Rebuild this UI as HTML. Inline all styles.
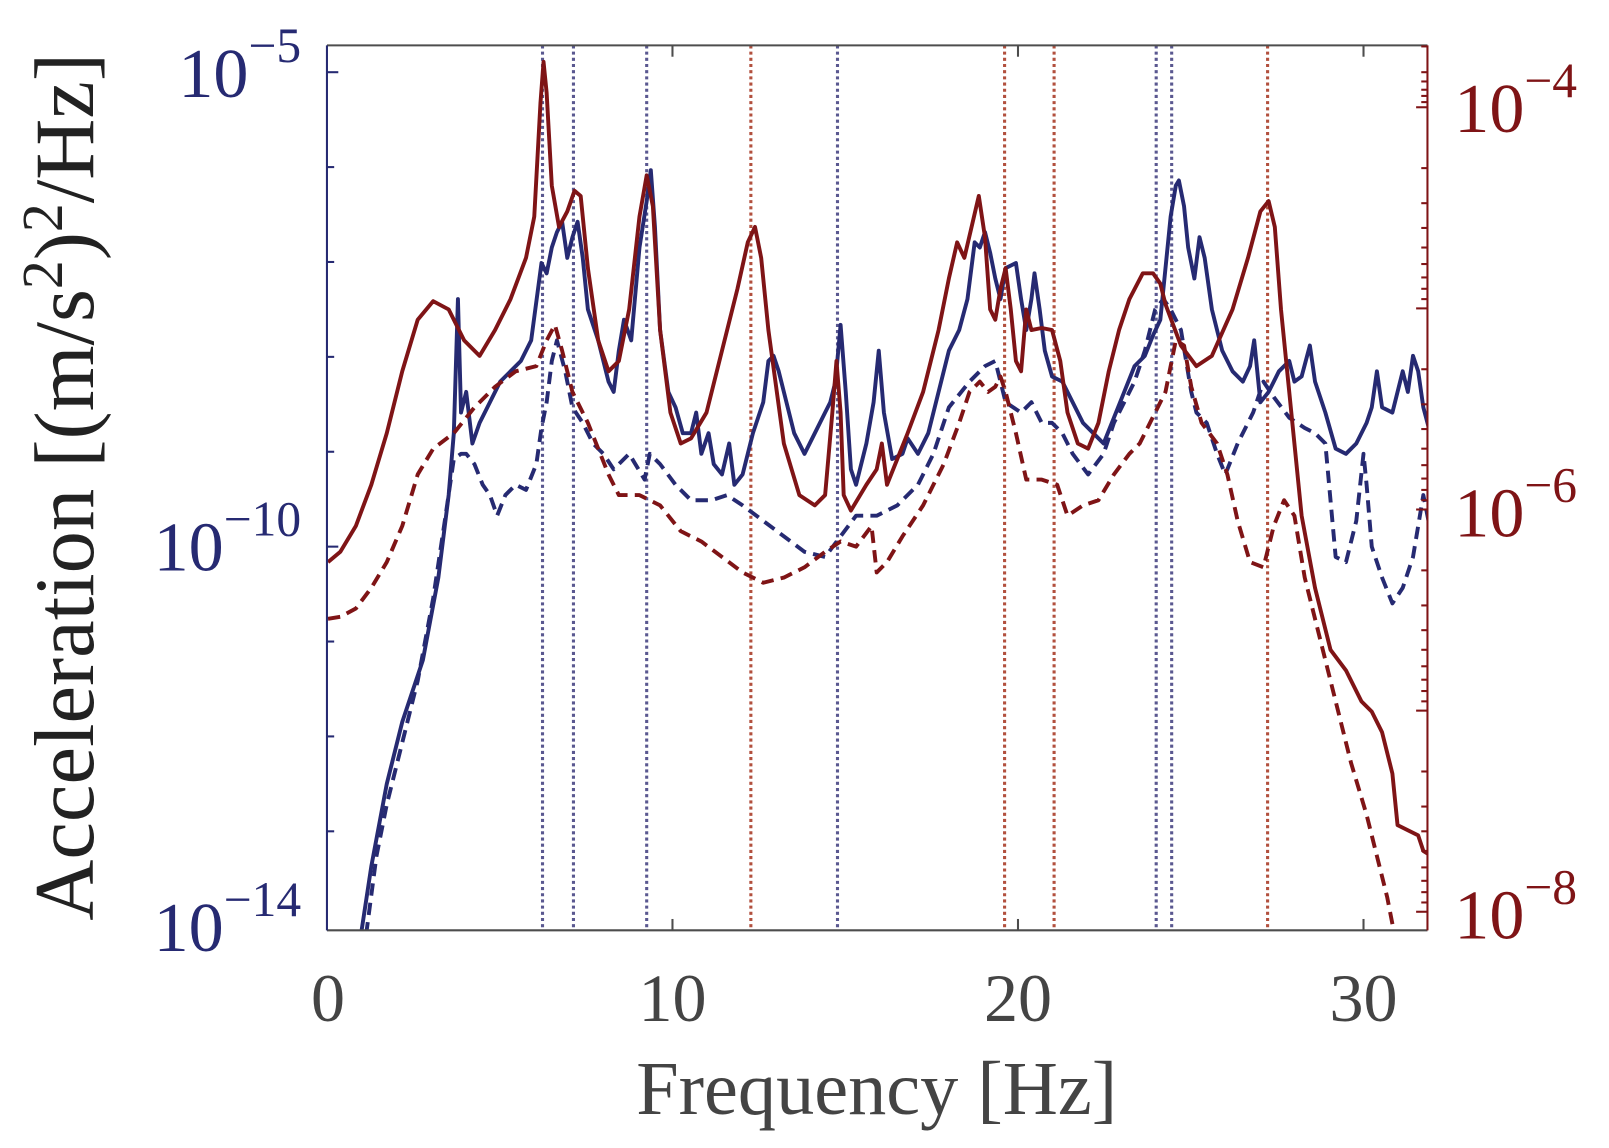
<!DOCTYPE html>
<html><head><meta charset="utf-8"><style>
html,body{margin:0;padding:0;background:#fff;}
svg{display:block;}
text{font-family:"Liberation Serif",serif;}
</style></head><body>
<svg width="1609" height="1148" viewBox="0 0 1609 1148" xmlns="http://www.w3.org/2000/svg">
<g transform="scale(1.0314)">
<defs><clipPath id="c"><rect x="317" y="44" width="1067" height="858"/></clipPath></defs>
<g stroke-width="3" stroke-dasharray="3,3" fill="none">
<g stroke="#5a5890">
<line x1="526" y1="44" x2="526" y2="902"/><line x1="556" y1="44" x2="556" y2="902"/>
<line x1="627" y1="44" x2="627" y2="902"/><line x1="812" y1="44" x2="812" y2="902"/>
<line x1="1121" y1="44" x2="1121" y2="902"/><line x1="1136" y1="44" x2="1136" y2="902"/>
</g>
<g stroke="#b2503e">
<line x1="728" y1="44" x2="728" y2="902"/><line x1="974" y1="44" x2="974" y2="902"/>
<line x1="1022" y1="44" x2="1022" y2="902"/><line x1="1229" y1="44" x2="1229" y2="902"/>
</g>
</g>
<g clip-path="url(#c)" fill="none" stroke-width="3.8" stroke-linejoin="round">
<polyline stroke="#262a72" points="350,906 360,840 375,760 390,700 410,640 425,560 435,480 440,420 444,290 447,400 452,380 458,430 465,410 475,390 485,370 495,360 505,350 515,330 525,255 530,265 535,240 540,225 545,215 550,250 555,230 560,215 565,250 570,300 580,330 590,370 595,380 600,340 605,310 612,330 620,240 627,195 631,165 635,220 640,320 648,380 655,395 662,420 670,420 675,400 680,440 687,420 692,450 700,460 707,430 712,470 720,460 730,420 740,390 745,350 750,345 755,360 760,380 770,420 780,440 790,420 800,400 805,390 810,370 815,315 820,380 825,455 830,470 840,430 847,390 852,340 857,400 865,445 875,440 880,425 890,440 900,420 910,380 920,340 930,320 938,290 945,235 950,240 955,225 960,245 965,270 970,290 975,260 985,255 990,290 995,320 1000,290 1003,265 1008,300 1013,340 1020,365 1030,370 1040,390 1050,410 1060,420 1070,430 1080,405 1090,380 1100,355 1110,345 1118,325 1125,310 1130,260 1135,210 1140,180 1143,175 1148,200 1152,240 1158,270 1163,230 1168,250 1175,300 1185,340 1195,360 1205,370 1212,355 1216,330 1222,390 1230,380 1240,360 1250,350 1255,370 1262,365 1270,335 1275,370 1285,400 1295,435 1305,440 1315,430 1325,410 1330,395 1335,360 1340,395 1350,400 1360,360 1365,380 1370,345 1375,360 1380,395 1388,425"/>
<polyline stroke="#262a72" stroke-dasharray="12,7" points="355,906 365,830 375,780 390,720 405,660 420,580 432,500 440,445 447,440 452,440 460,450 468,470 475,480 482,500 490,480 500,470 510,475 520,450 525,415 530,390 535,350 540,330 548,360 555,395 565,410 575,430 585,440 595,455 610,440 625,465 630,440 640,450 655,470 670,485 690,485 705,480 720,490 740,505 760,520 780,535 800,540 815,520 830,500 850,500 870,490 890,470 905,440 920,395 940,370 955,355 965,350 975,390 990,400 1000,390 1010,410 1020,410 1030,420 1040,440 1055,460 1070,440 1080,410 1090,390 1100,370 1110,340 1120,300 1128,290 1135,300 1145,320 1155,380 1160,400 1170,410 1180,440 1188,460 1200,430 1215,400 1225,370 1235,385 1250,405 1265,415 1275,420 1285,430 1295,540 1305,545 1315,505 1322,440 1325,470 1330,530 1340,560 1350,585 1360,570 1370,540 1380,480 1388,520"/>
<polyline stroke="#7f1416" points="318,545 330,535 345,510 360,470 375,420 390,360 405,310 420,292 435,300 450,330 465,345 480,320 495,290 510,250 518,210 524,100 527,60 530,90 535,180 542,220 550,205 557,185 563,190 570,260 580,330 590,360 600,350 610,300 620,210 627,170 633,200 640,320 650,400 660,430 670,425 685,400 700,340 715,280 725,235 732,220 738,250 745,320 760,430 775,480 790,490 800,480 807,400 811,350 815,400 818,480 825,495 840,470 850,455 855,430 860,470 870,445 880,420 895,380 910,320 920,270 928,235 935,250 942,220 949,190 955,230 960,300 965,310 970,280 975,260 980,300 985,350 990,360 995,300 1000,320 1010,318 1020,320 1028,350 1035,400 1045,430 1055,435 1065,410 1075,360 1085,320 1095,290 1108,265 1118,265 1125,275 1130,295 1145,335 1160,355 1175,345 1195,300 1210,250 1222,205 1230,195 1236,220 1242,300 1250,380 1262,500 1275,570 1290,630 1305,650 1320,680 1330,690 1340,710 1350,750 1355,800 1365,805 1375,810 1380,825 1388,830"/>
<polyline stroke="#7f1416" stroke-dasharray="12,7" points="318,600 330,598 345,590 360,570 375,545 390,510 405,460 420,435 440,420 460,395 480,375 500,360 520,355 530,330 538,315 545,340 555,380 570,410 590,460 600,480 620,480 640,490 660,515 680,525 700,540 720,555 740,565 760,560 780,550 800,535 815,525 830,530 845,510 850,555 860,545 875,520 895,490 915,450 930,410 940,380 950,370 958,380 965,375 970,365 975,380 985,420 995,465 1010,465 1025,470 1035,500 1050,490 1065,485 1080,460 1095,440 1105,430 1120,400 1130,380 1140,330 1148,335 1155,375 1165,410 1180,430 1190,460 1200,505 1212,545 1225,550 1235,510 1245,485 1255,500 1265,560 1280,620 1295,680 1310,740 1325,790 1335,830 1345,870 1352,906"/>
</g>
<line x1="317" y1="44" x2="1384" y2="44" stroke="#4d4d4d" stroke-width="2"/>
<line x1="317" y1="902" x2="1384" y2="902" stroke="#4d4d4d" stroke-width="2"/>
<line x1="317" y1="44" x2="317" y2="902" stroke="#262a72" stroke-width="2"/>
<line x1="1384" y1="44" x2="1384" y2="902" stroke="#7f1416" stroke-width="2"/>
<g stroke="#4d4d4d" stroke-width="2">
<line x1="652" y1="902" x2="652" y2="891"/><line x1="987" y1="902" x2="987" y2="891"/><line x1="1322" y1="902" x2="1322" y2="891"/>
<line x1="652" y1="44" x2="652" y2="55"/><line x1="987" y1="44" x2="987" y2="55"/><line x1="1322" y1="44" x2="1322" y2="55"/>
</g>
<g stroke="#262a72" stroke-width="2">
<line x1="317" y1="70" x2="328" y2="70"/><line x1="317" y1="162" x2="324" y2="162"/><line x1="317" y1="254" x2="324" y2="254"/><line x1="317" y1="346" x2="324" y2="346"/><line x1="317" y1="438" x2="324" y2="438"/><line x1="317" y1="530" x2="328" y2="530"/><line x1="317" y1="622" x2="324" y2="622"/><line x1="317" y1="714" x2="324" y2="714"/><line x1="317" y1="806" x2="324" y2="806"/>
</g>
<g stroke="#7f1416" stroke-width="2">
<line x1="1373" y1="104" x2="1384" y2="104"/><line x1="1373" y1="299" x2="1384" y2="299"/><line x1="1373" y1="494" x2="1384" y2="494"/><line x1="1373" y1="689" x2="1384" y2="689"/><line x1="1373" y1="884" x2="1384" y2="884"/>
<line x1="1378" y1="45" x2="1384" y2="45"/><line x1="1378" y1="70" x2="1384" y2="70"/><line x1="1378" y1="79" x2="1384" y2="79"/><line x1="1378" y1="87" x2="1384" y2="87"/><line x1="1378" y1="93" x2="1384" y2="93"/><line x1="1378" y1="99" x2="1384" y2="99"/>
<line x1="1378" y1="163" x2="1384" y2="163"/><line x1="1378" y1="197" x2="1384" y2="197"/><line x1="1378" y1="221" x2="1384" y2="221"/><line x1="1378" y1="240" x2="1384" y2="240"/><line x1="1378" y1="256" x2="1384" y2="256"/><line x1="1378" y1="269" x2="1384" y2="269"/><line x1="1378" y1="280" x2="1384" y2="280"/><line x1="1378" y1="290" x2="1384" y2="290"/>
<line x1="1378" y1="358" x2="1384" y2="358"/><line x1="1378" y1="392" x2="1384" y2="392"/><line x1="1378" y1="416" x2="1384" y2="416"/><line x1="1378" y1="435" x2="1384" y2="435"/><line x1="1378" y1="451" x2="1384" y2="451"/><line x1="1378" y1="464" x2="1384" y2="464"/><line x1="1378" y1="475" x2="1384" y2="475"/><line x1="1378" y1="485" x2="1384" y2="485"/>
<line x1="1378" y1="553" x2="1384" y2="553"/><line x1="1378" y1="587" x2="1384" y2="587"/><line x1="1378" y1="611" x2="1384" y2="611"/><line x1="1378" y1="630" x2="1384" y2="630"/><line x1="1378" y1="646" x2="1384" y2="646"/><line x1="1378" y1="659" x2="1384" y2="659"/><line x1="1378" y1="670" x2="1384" y2="670"/><line x1="1378" y1="680" x2="1384" y2="680"/>
<line x1="1378" y1="748" x2="1384" y2="748"/><line x1="1378" y1="782" x2="1384" y2="782"/><line x1="1378" y1="806" x2="1384" y2="806"/><line x1="1378" y1="825" x2="1384" y2="825"/><line x1="1378" y1="841" x2="1384" y2="841"/><line x1="1378" y1="854" x2="1384" y2="854"/><line x1="1378" y1="865" x2="1384" y2="865"/><line x1="1378" y1="875" x2="1384" y2="875"/>
</g>
<g fill="#262a72" font-size="68" text-anchor="end">
<text x="292" y="94">10<tspan font-size="48" dy="-34">−5</tspan></text>
<text x="292" y="553">10<tspan font-size="48" dy="-34">−10</tspan></text>
<text x="292" y="922">10<tspan font-size="48" dy="-34">−14</tspan></text>
</g>
<g fill="#7f1416" font-size="68">
<text x="1410" y="128">10<tspan font-size="48" dy="-34">−4</tspan></text>
<text x="1410" y="520">10<tspan font-size="48" dy="-34">−6</tspan></text>
<text x="1410" y="910">10<tspan font-size="48" dy="-34">−8</tspan></text>
</g>
<g fill="#444" font-size="66" text-anchor="middle">
<text x="318" y="990">0</text><text x="652" y="990">10</text><text x="987" y="990">20</text><text x="1322" y="990">30</text>
<text x="850" y="1080" font-size="74">Frequency [Hz]</text>
</g>
<text transform="translate(90,472) rotate(-90)" text-anchor="middle" font-size="82" fill="#222">Acceleration [(m/s<tspan font-size="56" dy="-30">2</tspan><tspan dy="30">)</tspan><tspan font-size="56" dy="-30">2</tspan><tspan dy="30">/Hz]</tspan></text>
</g>
</svg>
</body></html>
